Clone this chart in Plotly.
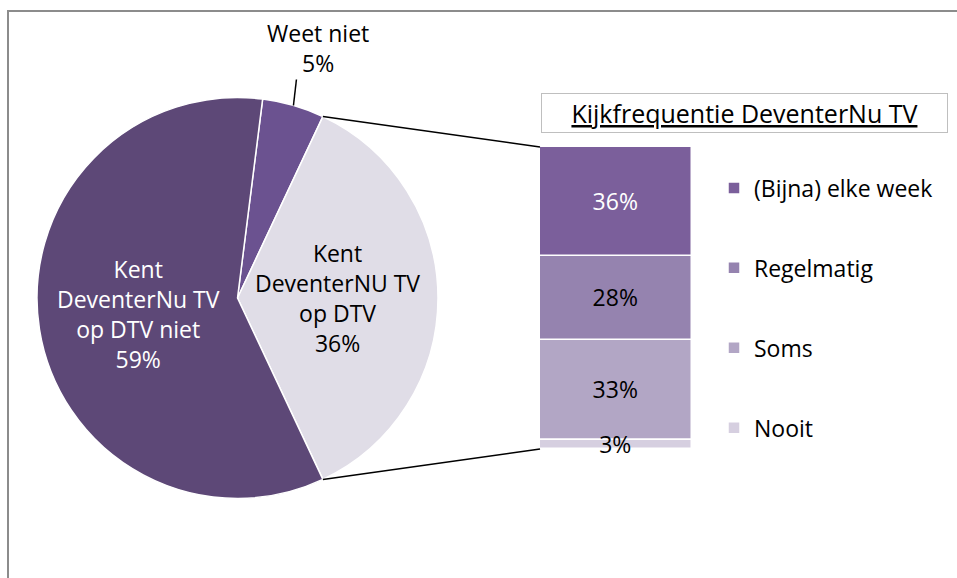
import math
import plotly.graph_objects as go

# pie data (clockwise from the top)
pie_labels = ["Weet niet", "Kent<br>DeventerNU TV<br>op DTV", "Kent<br>DeventerNu TV<br>op DTV niet"]
pie_values = [5, 36, 59]
pie_colors = ["#6b5290", "#e0dde7", "#5d4877"]
pie_text_colors = ["black", "black", "white"]

# breakdown bar (bottom to top)
bar_labels = ["Nooit", "Soms", "Regelmatig", "(Bijna) elke week"]
bar_values = [3, 33, 28, 36]
bar_colors = ["#d6cfe0", "#b2a6c5", "#9583af", "#7b5f9b"]
bar_text_colors = ["black", "black", "black", "white"]

title_text = "Kijkfrequentie DeventerNu TV"

W, H = 957, 578
FONT = "Open Sans"
FS = 23

pie_dom_x = [37.0 / W, 438.0 / W]
pie_dom_y = [1 - 498.5 / H, 1 - 97.5 / H]
bar_dom_x = [540.0 / W, 692.0 / W]
bar_dom_y = [1 - 449.0 / H, 1 - 147.0 / H]
rotation = 7.2
label_radius = 0.5   # inside labels sit halfway out along the slice middle

fig = go.Figure()

fig.add_trace(go.Pie(
    labels=pie_labels,
    values=pie_values,
    sort=False,
    direction="clockwise",
    rotation=rotation,
    marker=dict(colors=pie_colors, line=dict(color="white", width=1.5)),
    textinfo="none",
    domain=dict(x=pie_dom_x, y=pie_dom_y),
    showlegend=False,
    hoverinfo="label+percent",
))

# stacked bar drawn with explicit bases so the small bottom label is not hidden
bases = [sum(bar_values[:i]) for i in range(len(bar_values))]
order = list(range(1, len(bar_labels))) + [0]
for i in order:
    lab, val = bar_labels[i], bar_values[i]
    fig.add_trace(go.Bar(
        x=["k"], y=[val], base=[bases[i]], name=lab, legendgroup=lab,
        legendrank=len(bar_labels) - i,
        marker=dict(color=bar_colors[i], line=dict(color="white", width=1.5)),
        text=[f"{val}%"], textposition="inside", insidetextanchor="middle",
        constraintext="none", cliponaxis=False,
        textfont=dict(family=FONT, size=FS, color=bar_text_colors[i]),
        xaxis="x", yaxis="y",
    ))

# geometry of the pie, for connector lines and labels
cx = W * (pie_dom_x[0] + pie_dom_x[1]) / 2
cy = H * (1 - (pie_dom_y[0] + pie_dom_y[1]) / 2)
r = min(W * (pie_dom_x[1] - pie_dom_x[0]), H * (pie_dom_y[1] - pie_dom_y[0])) / 2
total = sum(pie_values)
starts = [rotation + 360 * sum(pie_values[:i]) / total for i in range(len(pie_values))]
mids = [s + 180 * v / total for s, v in zip(starts, pie_values)]
a1, a2 = starts[1], starts[2]


def edge(angle, rr=r):
    t = math.radians(angle)
    return (cx + rr * math.sin(t)) / W, 1 - (cy - rr * math.cos(t)) / H


shapes = []
for ang, by in [(a1, bar_dom_y[1]), (a2, bar_dom_y[0])]:
    px, py = edge(ang)
    shapes.append(dict(type="line", xref="paper", yref="paper",
                       x0=px, y0=py, x1=bar_dom_x[0], y1=by,
                       line=dict(color="black", width=1.5)))

# leader line for the small slice
mx, my = edge(mids[0])
shapes.append(dict(type="line", xref="paper", yref="paper",
                   x0=mx, y0=my, x1=mx + 3 / W, y1=my + 26 / H,
                   line=dict(color="black", width=1.5)))

# outer frame
shapes.append(dict(type="rect", xref="paper", yref="paper",
                   x0=8 / W, y0=-0.05, x1=1.05, y1=1 - 11 / H,
                   line=dict(color="#8c8c8c", width=2)))

annotations = [
    dict(text=f"<u>{title_text}</u>", xref="paper", yref="paper",
         x=744.5 / W, y=1 - 113 / H, xanchor="center", yanchor="middle",
         showarrow=False, width=403, height=36,
         bordercolor="#bfbfbf", borderwidth=1, bgcolor="white",
         font=dict(family=FONT, size=25, color="black")),
    dict(text=f"{pie_labels[0]}<br>{pie_values[0]}%", xref="paper", yref="paper",
         x=mx, y=my, xshift=25, yshift=57, showarrow=False,
         xanchor="center", yanchor="middle",
         font=dict(family=FONT, size=FS, color=pie_text_colors[0])),
]
for k in (1, 2):
    lx, ly = edge(mids[k], r * label_radius)
    annotations.append(dict(
        text=f"{pie_labels[k]}<br>{pie_values[k]}%", xref="paper", yref="paper",
        x=lx, y=ly, showarrow=False, xanchor="center", yanchor="middle",
        font=dict(family=FONT, size=FS, color=pie_text_colors[k])))

fig.update_layout(
    width=W, height=H,
    margin=dict(l=0, r=0, t=0, b=0),
    paper_bgcolor="white", plot_bgcolor="white",
    font=dict(family=FONT, size=FS, color="black"),
    barmode="overlay", bargap=0,
    xaxis=dict(domain=bar_dom_x, range=[-0.5, 0.5], visible=False, fixedrange=True),
    yaxis=dict(domain=bar_dom_y, range=[0, 100], visible=False, fixedrange=True),
    shapes=shapes,
    legend=dict(x=714 / W, y=1 - 166.5 / H, xanchor="left", yanchor="top",
                traceorder="grouped", tracegroupgap=47,
                font=dict(family=FONT, size=FS), itemwidth=30,
                bgcolor="rgba(0,0,0,0)"),
    annotations=annotations,
)

fig.write_html("out.html", config={"displayModeBar": False},
               post_script="document.body.style.margin='0px';")
